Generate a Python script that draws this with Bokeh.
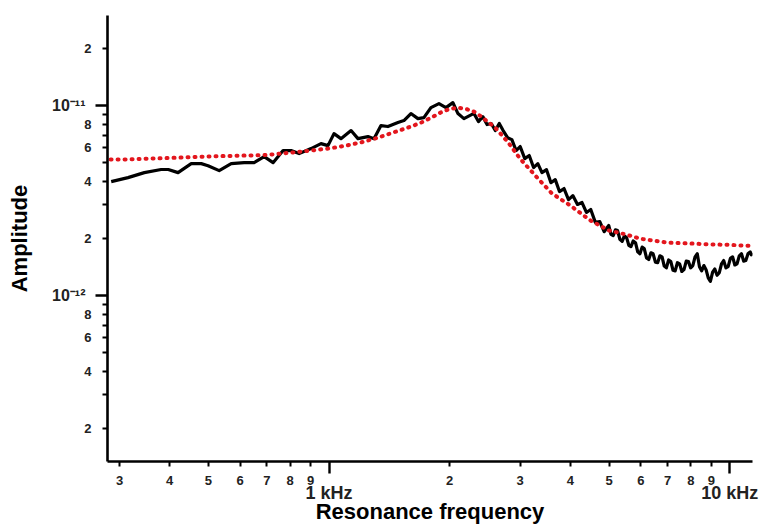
import numpy as np
from bokeh.plotting import figure
from bokeh.models import FixedTicker, CustomJSTickFormatter, Range1d, LogAxis
from bokeh.embed import file_html
from bokeh.resources import INLINE

# ---- data (frequency in Hz, amplitude in units of 1e-12) ----
meas_freq_hz = [286, 315, 346, 381, 397, 420, 453, 480, 499, 532,
                570, 614, 650, 689, 725, 768, 804, 842, 902, 955,
                994, 1029, 1071, 1135, 1181, 1251, 1295, 1348, 1403, 1486,
                1538, 1601, 1667, 1725, 1796, 1881, 1958, 2038, 2098, 2171,
                2300, 2360, 2420, 2480, 2540, 2600, 2660, 2720, 2790, 2860,
                2930, 3000, 3080, 3160, 3240, 3320, 3400, 3490, 3580, 3670,
                3760, 3860, 3960, 4060, 4170, 4280, 4390, 4500, 4620, 4740,
                4860, 4990, 5055, 5120, 5185, 5250, 5320, 5390, 5460, 5530,
                5600, 5670, 5745, 5820, 5895, 5970, 6045, 6120, 6200, 6280,
                6360, 6440, 6525, 6610, 6695, 6780, 6865, 6950, 7040, 7130,
                7220, 7310, 7405, 7500, 7595, 7690, 7790, 7890, 7990, 8090,
                8195, 8300, 8405, 8510, 8620, 8730, 8840, 8950, 9065, 9180,
                9300, 9420, 9540, 9660, 9785, 9910, 10040, 10170, 10300, 10430,
                10565, 10700, 10835, 10970, 11110, 11250, 11325, 11400]
meas_amp_e12 = [3.98, 4.18, 4.44, 4.61, 4.61, 4.44, 4.95, 4.95, 4.83, 4.55,
                4.95, 5.01, 5.01, 5.39, 5.01, 5.80, 5.80, 5.59, 5.94, 6.31,
                6.16, 7.12, 6.70, 7.39, 6.70, 6.87, 6.70, 7.85, 7.76, 8.14,
                8.34, 9.08, 8.54, 8.65, 9.76, 10.25, 9.76, 10.37, 9.08, 8.54,
                9.1, 8.24, 8.75, 7.95, 8.05, 7.39, 8.05, 7.39, 6.78, 6.62,
                5.80, 6.09, 5.26, 5.46, 4.72, 4.95, 4.44, 4.60, 3.93, 4.08,
                3.53, 3.66, 3.20, 3.36, 3.02, 3.09, 2.74, 2.84, 2.43, 2.45,
                2.17, 2.34, 2.10, 2.07, 2.22, 2.20, 1.98, 1.93, 2.06, 2.02,
                1.84, 1.81, 1.94, 1.90, 1.70, 1.66, 1.80, 1.77, 1.58, 1.55,
                1.68, 1.66, 1.50, 1.49, 1.62, 1.60, 1.43, 1.40, 1.54, 1.51,
                1.36, 1.35, 1.49, 1.47, 1.34, 1.37, 1.52, 1.51, 1.40, 1.44,
                1.60, 1.66, 1.42, 1.35, 1.44, 1.37, 1.24, 1.19, 1.33, 1.38,
                1.28, 1.32, 1.47, 1.53, 1.40, 1.42, 1.57, 1.60, 1.45, 1.47,
                1.62, 1.66, 1.52, 1.53, 1.66, 1.70, 1.64, 1.68]

fit_freq_hz = [285, 300, 400, 500, 600, 700, 800, 900, 1000,
               1100, 1200, 1300, 1400, 1500, 1600, 1700, 1800, 1900, 2000, 2100, 2200,
               2300, 2400, 2600, 2800, 3000,
               3300, 3600, 4000, 4500, 5000, 5500, 6000,
               7000, 8000, 9000, 10000, 11000, 11400]
fit_amp_e12 = [5.2, 5.2, 5.3, 5.4, 5.45, 5.5, 5.65, 5.8, 5.95,
               6.15, 6.4, 6.7, 7.05, 7.4, 7.75, 8.15, 8.65, 9.2, 9.6, 9.75, 9.6,
               9.3, 8.75, 7.65, 6.4, 5.25,
               4.2, 3.45, 2.98, 2.48, 2.2, 2.1, 1.99,
               1.9, 1.88, 1.86, 1.85, 1.83, 1.83]

x_minor_ticks_hz = [300, 400, 500, 600, 700, 800, 900,
                    2000, 3000, 4000, 5000, 6000, 7000, 8000, 9000]
x_decades_hz = [1000, 10000]
x_decade_labels = ["1 kHz", "10 kHz"]

y_minor_ticks = [2e-13, 3e-13, 4e-13, 5e-13, 6e-13, 7e-13, 8e-13, 9e-13,
                 2e-12, 3e-12, 4e-12, 5e-12, 6e-12, 7e-12, 8e-12, 9e-12,
                 2e-11]
y_decades = [1e-12, 1e-11]
y_decade_labels = ["10\u207b\u00b9\u00b2", "10\u207b\u00b9\u00b9"]

X_MIN, X_MAX = 280, 11400
Y_MIN, Y_MAX = 1.34e-13, 2.98e-11

FONT = "Liberation Sans"
LABEL_COLOR = "#222222"

meas_amp = np.array(meas_amp_e12) * 1e-12
fit_amp = np.array(fit_amp_e12) * 1e-12

p = figure(width=762, height=527, x_axis_type="log", y_axis_type="log",
           x_range=Range1d(X_MIN, X_MAX), y_range=Range1d(Y_MIN, Y_MAX),
           output_backend="svg", toolbar_location=None,
           min_border_left=107, min_border_right=10,
           min_border_top=15, min_border_bottom=66)
p.outline_line_color = None
p.xgrid.visible = False
p.ygrid.visible = False
p.background_fill_color = "white"
p.border_fill_color = "white"

p.line(meas_freq_hz, meas_amp, line_color="black", line_width=3.2,
       line_join="round")
p.line(fit_freq_hz, fit_amp, line_color="#e3161d", line_width=4,
       line_dash="1 6", line_cap="round")

xa = p.xaxis[0]
ya = p.yaxis[0]

# primary axes: line, ticks, small numeric labels
for ax in (xa, ya):
    ax.axis_line_width = 2.6
    ax.axis_line_color = "black"
    ax.major_tick_line_width = 2
    ax.minor_tick_line_width = 2.4
    ax.major_tick_in = 0
    ax.minor_tick_in = 0
    ax.major_tick_out = 5
    ax.minor_tick_out = 12
    ax.major_label_text_font = FONT
    ax.major_label_text_font_style = "bold"
    ax.major_label_text_font_size = "13px"
    ax.major_label_text_color = LABEL_COLOR
    ax.major_label_text_line_height = 1.0

xa.ticker = FixedTicker(ticks=x_minor_ticks_hz, minor_ticks=x_decades_hz)
xa.formatter = CustomJSTickFormatter(code="""
const e = Math.floor(Math.log10(tick) + 1e-6);
return String(Math.round(tick / Math.pow(10, e)));
""")
xa.major_label_standoff = 2

ya.ticker = FixedTicker(ticks=y_minor_ticks, minor_ticks=y_decades)
ya.formatter = CustomJSTickFormatter(code="""
const e = Math.floor(Math.log10(tick) + 1e-6);
const m = Math.round(tick / Math.pow(10, e));
return (m % 2 == 0) ? String(m) : "";
""")
ya.major_label_standoff = 4

# secondary axes: decade labels and axis titles
lookup = """
let best = 0, bd = Infinity;
for (let i = 0; i < dec_vals.length; i++) {
  const d = Math.abs(Math.log10(tick) - Math.log10(dec_vals[i]));
  if (d < bd) { bd = d; best = i; }
}
return dec_labels[best];
"""
xa2 = LogAxis(ticker=FixedTicker(ticks=x_decades_hz, minor_ticks=[]),
              formatter=CustomJSTickFormatter(args=dict(dec_vals=x_decades_hz, dec_labels=x_decade_labels), code=lookup))
ya2 = LogAxis(ticker=FixedTicker(ticks=y_decades, minor_ticks=[]),
              formatter=CustomJSTickFormatter(args=dict(dec_vals=y_decades, dec_labels=y_decade_labels), code=lookup))
for ax in (xa2, ya2):
    ax.axis_line_color = None
    ax.major_tick_line_color = None
    ax.minor_tick_line_color = None
    ax.major_tick_in = 0
    ax.major_tick_out = 0
    ax.minor_tick_in = 0
    ax.minor_tick_out = 0
    ax.major_label_text_font = FONT
    ax.major_label_text_font_style = "bold"
    ax.major_label_text_color = LABEL_COLOR
    ax.major_label_text_line_height = 1.0
    ax.axis_label_text_font = FONT
    ax.axis_label_text_font_style = "bold"
    ax.axis_label_text_font_size = "22px"
    ax.axis_label_text_color = "black"
    ax.axis_label_text_line_height = 0.9

xa2.major_label_text_font_size = "18px"
xa2.major_label_standoff = -5
xa2.axis_label = "Resonance frequency"
xa2.axis_label_standoff = -7

ya2.major_label_text_font_size = "16px"
ya2.major_label_standoff = -4
ya2.axis_label = "Amplitude"
ya2.axis_label_standoff = 17

p.add_layout(xa2, "below")
p.add_layout(ya2, "left")

open("out.html", "w").write(file_html(p, INLINE))
